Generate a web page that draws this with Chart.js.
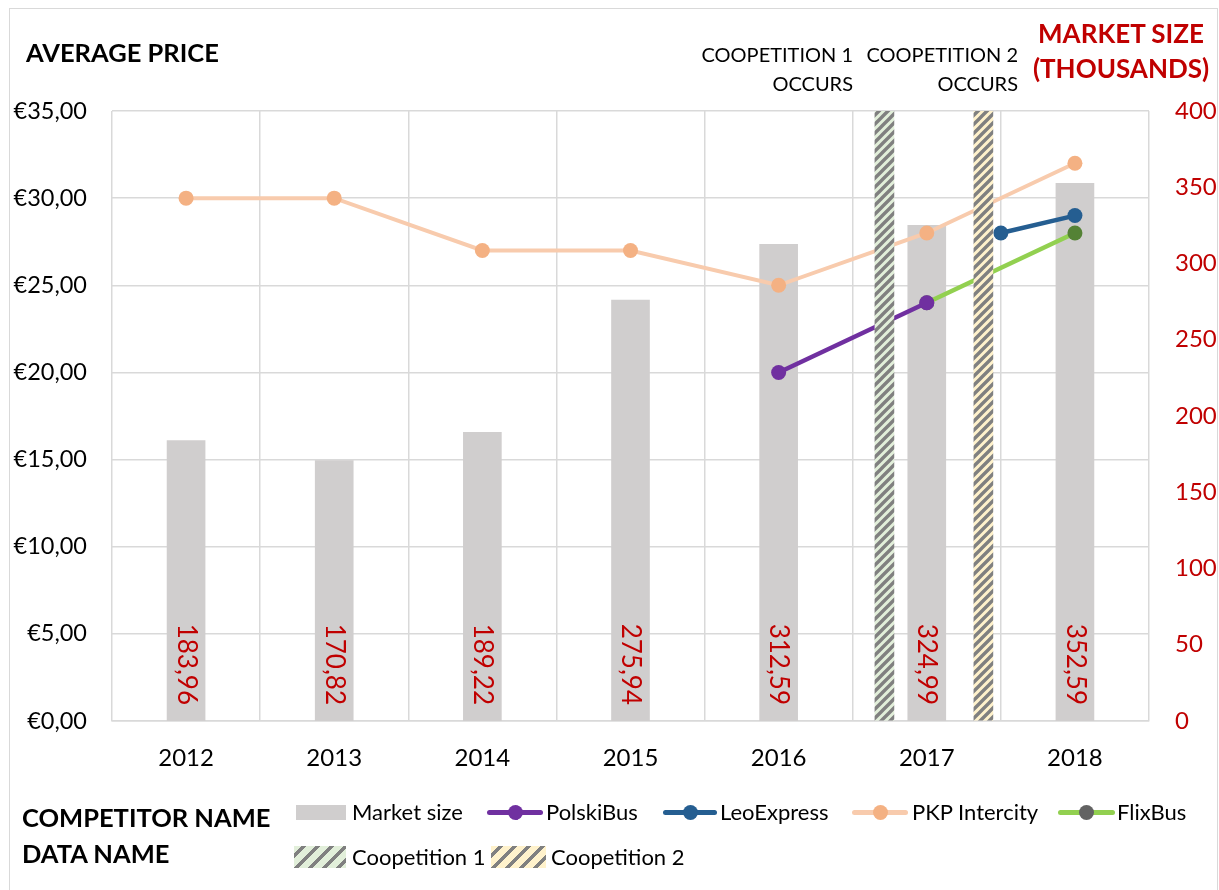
<!DOCTYPE html>
<html>
<head>
<meta charset="utf-8">
<script src="https://cdn.jsdelivr.net/npm/chart.js@4.4.1/dist/chart.umd.min.js"></script>
<style>
  html, body { margin: 0; padding: 0; background: #fff; }
  #wrap { position: relative; width: 1219px; height: 890px; font-family: Lato, 'Open Sans', sans-serif; color: #000; }
  #c { position: absolute; left: 0; top: 0; }
  .frame { position: absolute; left: 9px; top: 8px; width: 1209px; height: 890px; border: 1px solid #d9d9d9; box-sizing: border-box; }
  .t { position: absolute; white-space: nowrap; }
  .b { font-weight: bold; }
  .red { color: #c00000; }
  .sw { position: absolute; }
  .ln { position: absolute; height: 5px; border-radius: 3px; }
  .dot { position: absolute; width: 15px; height: 15px; border-radius: 50%; }
</style>
</head>
<body>
<div id="wrap">
  <canvas id="c" width="1219" height="890"></canvas>
  <div class="frame"></div>

  <div class="t b" style="left:26px;top:37px;font-size:25.5px;line-height:30px;">AVERAGE PRICE</div>
  <div class="t b red" style="left:1021px;width:200px;top:16px;font-size:26px;line-height:35px;text-align:center;">MARKET SIZE<br>(THOUSANDS)</div>
  <div class="t" style="left:653px;width:200px;top:40px;font-size:20px;line-height:29px;text-align:right;">COOPETITION 1<br>OCCURS</div>
  <div class="t" style="left:818px;width:200px;top:40px;font-size:20px;line-height:29px;text-align:right;">COOPETITION 2<br>OCCURS</div>

  <div class="t b" style="left:22px;top:802px;font-size:25.5px;line-height:30px;">COMPETITOR NAME</div>
  <div class="t b" style="left:22px;top:838px;font-size:25.5px;line-height:30px;">DATA NAME</div>

  <div id="legend"></div>
</div>

<script>
// ── Data ───────────────────────────────────────────────────────────────
var years        = ['2012', '2013', '2014', '2015', '2016', '2017', '2018'];
var marketSize   = [183.96, 170.82, 189.22, 275.94, 312.59, 324.99, 352.59];
var pkpIntercity = [30, 30, 27, 27, 25, 28, 32];
var polskiBus    = [null, null, null, null, 20, 24, null];
var flixBus      = [null, null, null, null, null, 24, 28];
// LeoExpress starts between 2017 and 2018 (positions in category units)
var leoExpressPos = [5.5, 6];
var leoExpress    = [28, 29];
// Coopetition events (positions in category units), full price-axis height
var coop1Pos = [4.714];
var coop2Pos = [5.382];
var priceMax = 35;

var priceTicks  = { min: 0, max: 35, step: 5 };
var marketTicks = { min: 0, max: 400, step: 50 };

// ── Colours ────────────────────────────────────────────────────────────
var C = {
    market: '#d0cece',
    polski: '#7030a0',
    leo:    '#255e91',
    pkpLine:'#f8cbad',
    pkpDot: '#f4b183',
    flix:   '#92d050',
    flixDot1: '#636363',
    flixDot2: '#548235',
    coop1:  '#e2efda',
    coop2:  '#fff2cc',
    hatch:  '#808080',
    red:    '#c00000',
    grid:   '#d9d9d9'
};
var FONT = "Lato, 'Open Sans', sans-serif";

function toPoints(values) {
    var pts = [];
    values.forEach(function (v, i) { if (v !== null) pts.push({ x: i, y: v }); });
    return pts;
}
function toXY(xs, ys) {
    return xs.map(function (x, i) { return { x: x, y: ys[i] }; });
}

function hatch(bg) {
    var s = 9;
    var c = document.createElement('canvas');
    c.width = s; c.height = s;
    var g = c.getContext('2d');
    g.fillStyle = bg; g.fillRect(0, 0, s, s);
    g.strokeStyle = C.hatch; g.lineWidth = 3.4;
    g.beginPath();
    g.moveTo(-s, s); g.lineTo(s, -s);
    g.moveTo(0, s); g.lineTo(s, 0);
    g.moveTo(0, 2 * s); g.lineTo(2 * s, 0);
    g.stroke();
    return g.createPattern(c, 'repeat');
}

// ── Rotated value labels at the base of the market bars ────────────────
var barLabels = {
    id: 'barLabels',
    afterDatasetsDraw: function (chart) {
        var meta = chart.getDatasetMeta(0);
        var ctx = chart.ctx;
        ctx.save();
        ctx.fillStyle = C.red;
        ctx.font = '26px ' + FONT;
        ctx.textAlign = 'right';
        ctx.textBaseline = 'middle';
        meta.data.forEach(function (bar, i) {
            ctx.save();
            ctx.translate(bar.x, bar.base - 16);
            ctx.rotate(Math.PI / 2);
            ctx.fillText(marketSize[i].toFixed(2).replace('.', ','), 0, 0);
            ctx.restore();
        });
        ctx.restore();
    }
};

var lineBase = {
    type: 'line',
    xAxisID: 'x2',
    yAxisID: 'y',
    borderWidth: 4.5,
    pointRadius: 7.5,
    pointHoverRadius: 7.5,
    pointBorderWidth: 0,
    borderCapStyle: 'round',
    tension: 0,
    order: 1
};
function line(o) { return Object.assign({}, lineBase, o); }

new Chart(document.getElementById('c'), {
    data: {
        labels: years,
        datasets: [
            {
                type: 'bar',
                label: 'Market size',
                data: marketSize,
                backgroundColor: C.market,
                xAxisID: 'x',
                yAxisID: 'y2',
                barThickness: 38,
                grouped: false,
                order: 3
            },
            line({ label: 'PKP Intercity', data: toPoints(pkpIntercity), borderColor: C.pkpLine,
                   pointBackgroundColor: C.pkpDot, borderWidth: 4 }),
            line({ label: 'PolskiBus', data: toPoints(polskiBus), borderColor: C.polski,
                   pointBackgroundColor: C.polski }),
            line({ label: 'LeoExpress', data: toXY(leoExpressPos, leoExpress), borderColor: C.leo,
                   pointBackgroundColor: C.leo }),
            line({ label: 'FlixBus', data: toPoints(flixBus), borderColor: C.flix,
                   pointBackgroundColor: [C.flixDot1, C.flixDot2] }),
            {
                type: 'bar',
                label: 'Coopetition 1',
                data: coop1Pos.map(function (x) { return { x: x, y: priceMax }; }),
                backgroundColor: hatch(C.coop1),
                xAxisID: 'x2',
                yAxisID: 'y',
                barThickness: 19,
                grouped: false,
                order: 0
            },
            {
                type: 'bar',
                label: 'Coopetition 2',
                data: coop2Pos.map(function (x) { return { x: x, y: priceMax }; }),
                backgroundColor: hatch(C.coop2),
                xAxisID: 'x2',
                yAxisID: 'y',
                barThickness: 19,
                grouped: false,
                order: 0
            }
        ]
    },
    options: {
        responsive: false,
        animation: false,
        events: [],
        layout: { padding: { top: 111, left: 0, right: 0, bottom: 0 } },
        plugins: {
            legend: { display: false },
            tooltip: { enabled: false }
        },
        scales: {
            x: {
                type: 'category',
                offset: true,
                grid: { color: C.grid, lineWidth: 1.5, offset: true, drawTicks: false },
                border: { color: C.grid, width: 1.5 },
                ticks: { color: '#000', font: { family: FONT, size: 24 }, padding: 23 },
                afterFit: function (s) { s.height = 890 - 721; }
            },
            x2: {
                type: 'linear',
                display: false,
                offset: false,
                grid: { offset: false },
                bounds: 'data',
                min: -0.5,
                max: 6.5
            },
            y: {
                position: 'left',
                min: priceTicks.min,
                max: priceTicks.max,
                grid: { color: C.grid, lineWidth: 1.5, drawTicks: false },
                border: { display: false },
                ticks: {
                    stepSize: priceTicks.step,
                    color: '#000',
                    padding: 25,
                    font: { family: FONT, size: 23.5 },
                    callback: function (v) { return '€' + v.toFixed(2).replace('.', ','); }
                },
                afterFit: function (s) { s.width = 112; }
            },
            y2: {
                position: 'right',
                min: marketTicks.min,
                max: marketTicks.max,
                grid: { display: false, drawTicks: false },
                border: { display: false },
                ticks: {
                    stepSize: marketTicks.step,
                    color: C.red,
                    padding: 26,
                    font: { family: FONT, size: 24 }
                },
                afterFit: function (s) { s.width = 1219 - 1149; }
            }
        }
    },
    plugins: [barLabels]
});

// ── Custom legend (HTML) ───────────────────────────────────────────────
var legend = document.getElementById('legend');
function add(html) { legend.insertAdjacentHTML('beforeend', html); }
function label(text, x, cy) {
    add('<div class="t" style="left:' + x + 'px;top:' + (cy - 14) + 'px;font-size:22px;line-height:28px;">' + text + '</div>');
}
function lineKey(x1, x2, cy, col, dot) {
    add('<div class="ln" style="left:' + x1 + 'px;width:' + (x2 - x1) + 'px;top:' + (cy - 2.5) + 'px;background:' + col + ';"></div>');
    add('<div class="dot" style="left:' + ((x1 + x2) / 2 - 7.5) + 'px;top:' + (cy - 7.5) + 'px;background:' + dot + ';"></div>');
}
function hatchCss(bg) {
    return 'repeating-linear-gradient(135deg,' + bg + ' 0 5px,' + C.hatch + ' 5px 8.5px,' + bg + ' 8.5px 10px)';
}

var row1 = 812, row2 = 857;
add('<div class="sw" style="left:296px;top:805px;width:50px;height:15px;background:' + C.market + ';"></div>');
label('Market size', 352, row1);
lineKey(487, 543, row1, C.polski, C.polski);
label('PolskiBus', 546, row1);
lineKey(663, 717, row1, C.leo, C.leo);
label('LeoExpress', 720, row1);
lineKey(852, 908, row1, C.pkpLine, C.pkpDot);
label('PKP Intercity', 912, row1);
lineKey(1058, 1115, row1, C.flix, C.flixDot1);
label('FlixBus', 1117, row1);

add('<div class="sw" style="left:294px;top:846px;width:52px;height:22px;background:' + hatchCss(C.coop1) + ';"></div>');
label('Coopetition 1', 352, row2);
add('<div class="sw" style="left:491px;top:846px;width:55px;height:22px;background:' + hatchCss(C.coop2) + ';"></div>');
label('Coopetition 2', 551, row2);
</script>
</body>
</html>
